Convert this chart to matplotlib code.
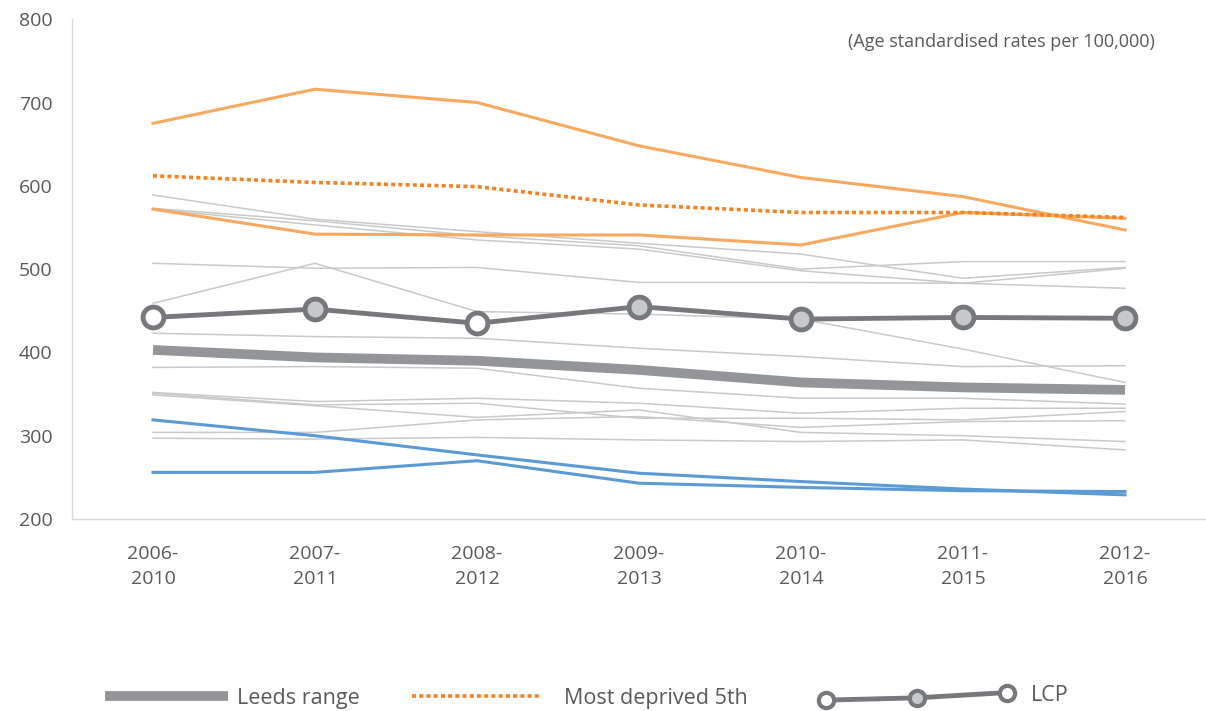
import numpy as np
import matplotlib
matplotlib.use("Agg")
import matplotlib.pyplot as plt
from matplotlib.lines import Line2D
from matplotlib.legend_handler import HandlerBase

plt.rcParams['font.family'] = ['Open Sans', 'DejaVu Sans']

periods = ["2006-\n2010", "2007-\n2011", "2008-\n2012", "2009-\n2013",
           "2010-\n2014", "2011-\n2015", "2012-\n2016"]

# individual areas (thin grey)
area_lines = [
    [589, 560, 545, 531, 518, 489, 502],
    [573, 558, 540, 528, 500, 509, 509],
    [572, 553, 535, 524, 498, 483, 501],
    [507, 501, 502, 484, 484, 483, 477],
    [459, 507, 449, 446, 440, 404, 364],
    [423, 419, 417, 405, 395, 383, 384],
    [382, 383, 381, 357, 345, 345, 338],
    [352, 341, 345, 339, 327, 333, 333],
    [351, 337, 339, 321, 321, 319, 329],
    [349, 336, 322, 331, 304, 300, 293],
    [304, 304, 319, 323, 310, 317, 318],
    [297, 296, 298, 295, 293, 295, 283],
]
orange_high = [675, 716, 700, 648, 610, 587, 547]
orange_low = [572, 542, 541, 541, 529, 568, 561]
blue_a = [319, 300, 277, 255, 245, 236, 229]
blue_b = [256, 256, 270, 243, 238, 234, 233]
leeds = [403, 394, 390, 379, 364, 358, 355]
most_deprived = [612, 604, 599, 577, 568, 568, 562]
lcp = [442, 452, 435, 455, 440, 442, 441]
lcp_filled = [False, True, False, True, True, True, True]

GREY_THIN = "#C9C9C9"
GREY_THICK = "#939598"
LCP_COL = "#77787B"
LCP_FILL = "#C7C8CA"
ORANGE = "#F9A95E"
ORANGE_DOT = "#F58220"
BLUE = "#5B9BD5"
TXT = "#595959"

fig = plt.figure(figsize=(12.06, 7.11), dpi=100)
ax = fig.add_axes([0.0597, 0.270, 0.9403, 0.703])
x = np.arange(len(periods))

for vals in area_lines:
    ax.plot(x, vals, color=GREY_THIN, lw=1.1, zorder=1)
ax.plot(x, blue_a, color=BLUE, lw=2.2, zorder=3)
ax.plot(x, blue_b, color=BLUE, lw=2.2, zorder=3)
ax.plot(x, orange_high, color=ORANGE, lw=2.2, zorder=3)
ax.plot(x, orange_low, color=ORANGE, lw=2.2, zorder=3)
ax.plot(x, leeds, color=GREY_THICK, lw=7, zorder=2, solid_capstyle="butt")
ax.plot(x, most_deprived, color=ORANGE_DOT, lw=2.6, zorder=4,
        linestyle=(0, (1.1, 0.9)), dash_capstyle="butt")
ax.plot(x, lcp, color=LCP_COL, lw=3.5, zorder=5)
for xi, yi, filled in zip(x, lcp, lcp_filled):
    ax.plot(xi, yi, marker="o", ms=15, mew=3.5, mec=LCP_COL,
            mfc=LCP_FILL if filled else "white", zorder=6)

ax.set_xlim(-0.5, 6.5)
ax.set_ylim(200, 800)
ax.set_yticks(range(200, 801, 100))
ax.set_xticks(x)
ax.set_xticklabels(periods, linespacing=1.5)
ax.tick_params(axis="both", length=0, labelsize=14, labelcolor=TXT)
ax.tick_params(axis="x", pad=19)
ax.tick_params(axis="y", pad=14)
for s in ["top", "right"]:
    ax.spines[s].set_visible(False)
for s in ["left", "bottom"]:
    ax.spines[s].set_color("#D9D9D9")
    ax.spines[s].set_linewidth(1.0)

ax.text(0.955, 0.955, "(Age standardised rates per 100,000)", transform=ax.transAxes,
        ha="right", va="center", fontsize=13, color=TXT)


class LcpHandler(HandlerBase):
    def create_artists(self, legend, orig_handle, xdescent, ydescent,
                       width, height, fontsize, trans):
        xs = np.array([0, width / 2, width]) - xdescent
        ys = np.array([-0.45, -0.3, 0.05]) * height + height / 2 - ydescent
        arts = [Line2D(xs, ys, color=LCP_COL, lw=3.5, transform=trans)]
        for xi, yi, f in zip(xs, ys, [False, True, False]):
            arts.append(Line2D([xi], [yi], marker="o", ms=11, mew=3, mec=LCP_COL,
                               mfc=LCP_FILL if f else "white", transform=trans))
        return arts


FS = 15.5
leg_kw = dict(frameon=False, fontsize=FS, labelcolor=TXT, loc="center left",
              borderpad=0, borderaxespad=0)
h1 = Line2D([], [], color=GREY_THICK, lw=7, solid_capstyle="butt")
fig.legend([h1], ["Leeds range"], bbox_to_anchor=(0.087, 0.018),
           handlelength=5.7, handletextpad=0.45, **leg_kw)
h2 = Line2D([], [], color=ORANGE_DOT, lw=2.6, linestyle=(0, (1.1, 0.9)),
            dash_capstyle="butt")
fig.legend([h2], ["Most deprived 5th"], bbox_to_anchor=(0.3416, 0.018),
           handlelength=6.0, handletextpad=1.05, **leg_kw)
h3 = Line2D([], [], color=LCP_COL)
fig.legend([h3], ["LCP"], bbox_to_anchor=(0.685, 0.022),
           handlelength=8.4, handletextpad=1.1, handler_map={h3: LcpHandler()}, **leg_kw)

fig.savefig("out.png", dpi=100)
